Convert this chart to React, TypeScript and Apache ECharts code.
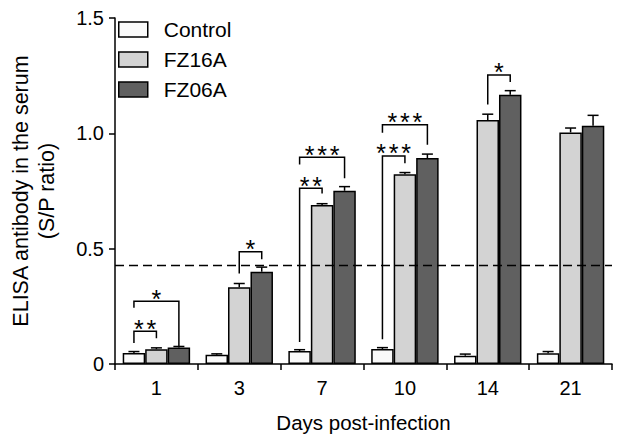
import React, { useEffect, useRef } from "react";
import * as echarts from "echarts";

const categories = ["1", "3", "7", "10", "14", "21"];
const seriesNames = ["Control", "FZ16A", "FZ06A"];
const control = [0.048, 0.040, 0.056, 0.065, 0.036, 0.047];
const controlErr = [0.006, 0.004, 0.006, 0.006, 0.007, 0.007];
const fz16a = [0.064, 0.333, 0.689, 0.823, 1.058, 1.004];
const fz16aErr = [0.006, 0.016, 0.006, 0.007, 0.025, 0.019];
const fz06a = [0.071, 0.400, 0.751, 0.893, 1.167, 1.033];
const fz06aErr = [0.005, 0.020, 0.018, 0.017, 0.018, 0.045];
const cutoff = 0.43;

// significance brackets
const bracketCats = [0, 0, 1, 2, 2, 3, 3, 4];
const bracketA = [0, 0, 1, 0, 0, 0, 0, 1];
const bracketB = [1, 2, 2, 1, 2, 1, 2, 2];
const bracketLegA = [0.091, 0.244, 0.392, 0.095, 0.865, 0.107, 1.003, 1.125];
const bracketLegB = [0.112, 0.074, 0.454, 0.739, 0.805, 0.870, 0.950, 1.223];
const bracketTop = [0.142, 0.272, 0.487, 0.762, 0.896, 0.902, 1.037, 1.253];
const bracketStars = [2, 1, 1, 2, 3, 3, 3, 1];

const FONT = "'Liberation Sans', Arial, Helvetica, sans-serif";
const colors = ["#fafafa", "#d3d3d3", "#606060"];
const GAP = 0.186;

export default function App() {
  const ref = useRef<HTMLDivElement>(null);
  useEffect(() => {
    if (!ref.current) return;
    document.body.style.margin = "0";
    const chart = echarts.init(ref.current, undefined, { renderer: "svg" });
    const values = [control, fz16a, fz06a];
    const errs = [controlErr, fz16aErr, fz06aErr];

    const errData: number[][] = [];
    values.forEach((arr, k) =>
      arr.forEach((v, i) => errData.push([i, k, v, errs[k][i]]))
    );
    const brData = bracketCats.map((c, i) => [
      c,
      bracketA[i],
      bracketB[i],
      bracketLegA[i],
      bracketLegB[i],
      bracketTop[i],
      bracketStars[i],
    ]);

    const barCenter = (api: any, cat: number, k: number) => {
      const band = api.size([1, 0])[0];
      const bw = (band * (1 - GAP)) / 3;
      return api.coord([cat, 0])[0] + (k - 1) * bw;
    };

    const barSeries = seriesNames.map((name, k) => ({
      name,
      type: "bar",
      data: values[k],
      barGap: "0%",
      barCategoryGap: GAP * 100 + "%",
      itemStyle: { color: colors[k], borderColor: "#000", borderWidth: 1.5 },
      z: 2,
      ...(k === 2
        ? {
            markLine: {
              silent: true,
              symbol: "none",
              label: { show: false },
              lineStyle: { type: [9, 5], color: "#000", width: 1.4 },
              data: [{ yAxis: cutoff }],
              z: 5,
            },
          }
        : {}),
    }));

    chart.setOption({
      animation: false,
      grid: { left: 107, right: 24, top: 18, bottom: 69, containLabel: false },
      legend: {
        orient: "vertical",
        left: 118,
        top: 19,
        padding: 0,
        itemWidth: 29,
        itemHeight: 15,
        itemGap: 9,
        icon: "rect",
        data: seriesNames,
        itemStyle: { borderColor: "#000", borderWidth: 1.5 },
        textStyle: {
          fontFamily: FONT,
          fontSize: 21,
          lineHeight: 15,
          color: "#000",
          padding: [0, 0, 0, 11],
        },
      },
      xAxis: {
        type: "category",
        data: categories,
        name: "Days post-infection",
        nameLocation: "middle",
        nameGap: 48,
        nameTextStyle: { fontFamily: FONT, fontSize: 20.5, color: "#000" },
        axisLine: { lineStyle: { color: "#000", width: 1.5 } },
        axisTick: { show: true, length: 6, inside: false, lineStyle: { width: 1.5, color: "#000" } },
        axisLabel: { fontFamily: FONT, fontSize: 20, color: "#000", margin: 14 },
      },
      yAxis: {
        type: "value",
        min: 0,
        max: 1.5,
        interval: 0.5,
        name: "ELISA antibody in the serum\n(S/P ratio)",
        nameLocation: "middle",
        nameGap: 55,
        nameTextStyle: { fontFamily: FONT, fontSize: 21.5, color: "#000", lineHeight: 26, align: "center" },
        axisLine: { show: true, lineStyle: { color: "#000", width: 1.5 } },
        axisTick: { show: true, length: 6, lineStyle: { width: 1.5, color: "#000" } },
        splitLine: { show: false },
        axisLabel: {
          fontFamily: FONT,
          fontSize: 20,
          color: "#000",
          margin: 11,
          formatter: (v: number) => (v === 0 ? "0" : v.toFixed(1)),
        },
      },
      series: [
        ...barSeries,
        {
          type: "custom",
          name: "err",
          data: errData,
          encode: { x: 0, y: 2 },
          clip: false,
          z: 3,
          silent: true,
          renderItem: (params: any, api: any) => {
            const cat = api.value(0);
            const k = api.value(1);
            const v = api.value(2);
            const e = api.value(3);
            const x = barCenter(api, cat, k);
            const y0 = api.coord([cat, v])[1];
            const y1 = api.coord([cat, v + e])[1];
            const cap = 5.5;
            return {
              type: "group",
              children: [
                { type: "line", shape: { x1: x, y1: y0, x2: x, y2: y1 }, style: { stroke: "#000", lineWidth: 1.5 } },
                { type: "line", shape: { x1: x - cap, y1: y1, x2: x + cap, y2: y1 }, style: { stroke: "#000", lineWidth: 1.5 } },
              ],
            };
          },
        },
        {
          type: "custom",
          name: "sig",
          data: brData,
          encode: { x: 0, y: 5 },
          clip: false,
          z: 4,
          silent: true,
          renderItem: (params: any, api: any) => {
            const cat = api.value(0);
            const a = api.value(1);
            const b = api.value(2);
            const la = api.coord([cat, api.value(3)])[1];
            const lb = api.coord([cat, api.value(4)])[1];
            const top = api.coord([cat, api.value(5)])[1];
            const n = api.value(6);
            const xa = barCenter(api, cat, a);
            const xb = barCenter(api, cat, b);
            const mid = (xa + xb) / 2;
            const children: any[] = [
              {
                type: "polyline",
                shape: { points: [[xa, la], [xa, top], [xb, top], [xb, lb]] },
                style: { stroke: "#000", lineWidth: 1.5, fill: null },
              },
            ];
            for (let j = 0; j < n; j++) {
              children.push({
                type: "text",
                style: {
                  text: "*",
                  x: mid + (j - (n - 1) / 2) * 12.5,
                  y: top - 2.5,
                  align: "center",
                  verticalAlign: "middle",
                  fontFamily: FONT,
                  fontSize: 25,
                  fill: "#000",
                },
              });
            }
            return { type: "group", children };
          },
        },
      ],
    });
    return () => chart.dispose();
  }, []);
  return <div ref={ref} style={{ width: 636, height: 438 }} />;
}
